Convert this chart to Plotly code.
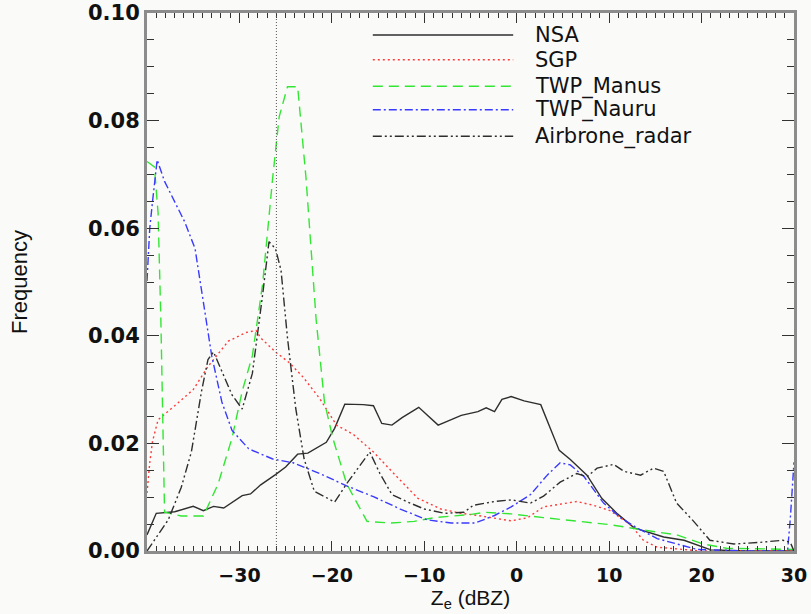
import plotly.graph_objects as go

# ---- data ----
nsa_x = [-40, -39, -37, -35, -33.9, -32.8, -31.7, -29.7, -28.8, -27.7, -26.1, -25, -23.7, -22.6, -20.6, -19.7,
         -18.6, -16.6, -15.5, -14.6, -13.5, -12.4, -10.6, -8.5, -7.4, -6.0, -4.2, -3.3, -2.4, -1.6, -0.6, 0.8,
         2.6, 4.6, 5.8, 7.6, 9.2, 10.9, 12.7, 14.1, 15.9, 18.1, 20.2, 21, 25, 30]
nsa_y = [0.003, 0.007, 0.0073, 0.0083, 0.0075, 0.0083, 0.008, 0.0103, 0.0106, 0.0123, 0.0142, 0.0156, 0.018,
         0.0182, 0.0202, 0.0228, 0.0273, 0.0272, 0.027, 0.0237, 0.0234, 0.0248, 0.0267, 0.0234, 0.0242, 0.0252,
         0.0259, 0.0266, 0.0259, 0.0282, 0.0287, 0.0279, 0.0272, 0.0187, 0.017, 0.0141, 0.0098, 0.0069, 0.0043,
         0.0036, 0.0026, 0.002, 0.0007, 0.0002, 0.0, 0.0]

sgp_x = [-40, -39.7, -39.4, -38.8, -37, -35, -33.4, -31.2, -29.3, -28.2, -27.7, -26.1, -24.6, -23.1, -21.3,
         -19.5, -17.7, -15.5, -13.3, -10.7, -8.2, -6, -4.2, -0.6, 1.2, 2.9, 6.5, 8.3, 10.1, 12.3, 13.7, 15.2, 20, 30]
sgp_y = [0.0108, 0.0164, 0.0204, 0.0244, 0.027, 0.030, 0.0343, 0.039, 0.0406, 0.041, 0.0396, 0.037, 0.035,
         0.0323, 0.0283, 0.0234, 0.0217, 0.0184, 0.0144, 0.0098, 0.0078, 0.0070, 0.0066, 0.0056, 0.0062, 0.0082,
         0.0092, 0.0085, 0.0075, 0.0049, 0.002, 0.0007, 0.0, 0.0]

manus_x = [-40, -39.2, -38.8, -38.5, -38.1, -36.3, -33.9, -32.3, -30.8, -29.7, -28.6, -27.5, -26.4, -25.7,
           -24.8, -23.7, -22.8, -21.7, -20.8, -19.9, -18.4, -16.2, -13.6, -11.1, -8.9, -4.9, -3.5, -0.6, 2.9,
           6.5, 10.1, 13.7, 17.3, 20.2, 22.7, 30]
manus_y = [0.0724, 0.0714, 0.0628, 0.043, 0.0072, 0.0065, 0.0065, 0.0125, 0.021, 0.0297, 0.0363, 0.0495,
           0.0694, 0.0807, 0.0863, 0.0863, 0.0694, 0.043, 0.0277, 0.021, 0.0125, 0.0055, 0.0052, 0.0055, 0.0062,
           0.0068, 0.0072, 0.0069, 0.0062, 0.0056, 0.0049, 0.0039, 0.003, 0.0013, 0.0005, 0.0003]

nauru_x = [-40, -39.7, -39.4, -38.9, -38.1, -35.9, -34.8, -33.9, -33, -31.9, -30.8, -29, -26.4, -24.2, -21.3,
           -18.4, -15.5, -12.6, -9.7, -7.1, -4.5, -2.4, -0.6, 1.5, 3.3, 4.7, 5.8, 7.3, 9.4, 11.2, 13, 15.2,
           17.3, 19.5, 25, 29.3, 29.6, 30]
nauru_y = [0.0502, 0.06, 0.065, 0.0727, 0.0687, 0.0611, 0.0562, 0.0462, 0.0363, 0.0277, 0.0224, 0.019, 0.0171,
           0.0164, 0.0144, 0.0121, 0.0101, 0.0078, 0.0058, 0.0052, 0.0052, 0.0066, 0.0082, 0.0105, 0.0141,
           0.0164, 0.016, 0.0138, 0.0089, 0.0062, 0.0043, 0.0023, 0.0013, 0.0003, 0.0, 0.0, 0.006, 0.0165]

air_x = [-40, -37.7, -36.3, -35.2, -34.1, -33.4, -32.8, -32.1, -30.8, -29.7, -28.6, -27.5, -26.8, -26.1, -25.5,
         -24.8, -23.9, -23, -21.9, -19.7, -18.4, -17, -15.9, -14.8, -13.5, -11.8, -10, -7.8, -5.7, -4.7, -2.4,
         -0.6, 1.5, 2.9, 4.7, 6.5, 7.6, 8.7, 10.5, 11.6, 13.4, 14.8, 15.9, 17.3, 19.1, 20.9, 23.5, 26.3, 28.8,
         29.6, 30]
air_y = [0.0, 0.0058, 0.0118, 0.0184, 0.0297, 0.0356, 0.037, 0.0343, 0.029, 0.0264, 0.033, 0.0475, 0.0575,
         0.0562, 0.0522, 0.0396, 0.0264, 0.0171, 0.0111, 0.0091, 0.0125, 0.0158, 0.0184, 0.0144, 0.0105, 0.0091,
         0.0078, 0.007, 0.0072, 0.0085, 0.0092, 0.0095, 0.0089, 0.0102, 0.0128, 0.0144, 0.0138, 0.0154, 0.0161,
         0.0148, 0.0141, 0.0154, 0.0148, 0.0089, 0.0056, 0.002, 0.0013, 0.0016, 0.002, 0.0016, 0.0]

series_names = ["NSA", "SGP", "TWP_Manus", "TWP_Nauru", "Airbrone_radar"]
x_ticks = [-30, -20, -10, 0, 10, 20, 30]
y_ticks = [0.00, 0.02, 0.04, 0.06, 0.08, 0.10]
ref_line_x = -26

# ---- styles ----
colors = ["#2e2e2e", "#ff3a3a", "#33e633", "#3a3aff", "#2e2e2e"]
dashes = ["solid", "2px,3px", "10px,6px", "8px,3px,2px,3px", "9px,3px,2px,3px,2px,3px"]
series = [(nsa_x, nsa_y), (sgp_x, sgp_y), (manus_x, manus_y), (nauru_x, nauru_y), (air_x, air_y)]

fig = go.Figure()
for (xs, ys), name, c, d in zip(series, series_names, colors, dashes):
    fig.add_trace(go.Scatter(x=xs, y=ys, mode="lines", name=name, showlegend=False,
                             line=dict(color=c, width=1.4, dash=d)))

# reference vertical dotted line
fig.add_shape(type="line", xref="x", yref="paper", x0=ref_line_x, x1=ref_line_x, y0=0, y1=1,
              line=dict(color="#555555", width=1, dash="1px,2px"))

# manual legend (long line samples as in the reference)
leg_y = [0.959, 0.913, 0.864, 0.820, 0.771]
for name, c, d, yy in zip(series_names, colors, dashes, leg_y):
    fig.add_shape(type="line", xref="paper", yref="paper", x0=0.349, x1=0.566, y0=yy, y1=yy,
                  line=dict(color=c, width=1.5, dash=d))
    fig.add_annotation(xref="paper", yref="paper", x=0.597, y=yy, text=name, showarrow=False,
                       xanchor="left", yanchor="middle",
                       font=dict(family="DejaVu Sans", size=21, color="#111111"))

bg = "#fafbf9"
axis_common = dict(showline=True, linecolor="#8c8c8c", linewidth=3, mirror="allticks", automargin=False,
                   ticks="inside", tickcolor="#333333", tickwidth=1.3, showgrid=False, zeroline=False)

fig.update_xaxes(range=[-40, 30], tickvals=x_ticks, ticklen=10, ticklabelstandoff=5,
                 tickfont=dict(family="DejaVu Sans", size=19, color="#111111", weight="bold"),
                 minor=dict(dtick=1, tick0=0, ticks="inside", ticklen=5, tickcolor="#333333", tickwidth=1),
                 title=dict(text="Z<sub>e</sub> (dBZ)", standoff=6,
                            font=dict(family="Liberation Sans", size=21, color="#111111")),
                 **axis_common)
fig.update_yaxes(range=[0, 0.10], tickvals=y_ticks, tickformat=".2f", ticklen=12,
                 tickfont=dict(family="DejaVu Sans", size=21, color="#111111", weight="bold"),
                 minor=dict(dtick=0.005, tick0=0, ticks="inside", ticklen=7, tickcolor="#333333", tickwidth=1),
                 title=dict(text="Frequency", standoff=55,
                            font=dict(family="Liberation Sans", size=22, color="#111111")),
                 **axis_common)

fig.update_layout(width=811, height=614, margin=dict(l=147, r=17, t=13, b=63),
                  paper_bgcolor=bg, plot_bgcolor=bg)

fig.write_html("out.html")
